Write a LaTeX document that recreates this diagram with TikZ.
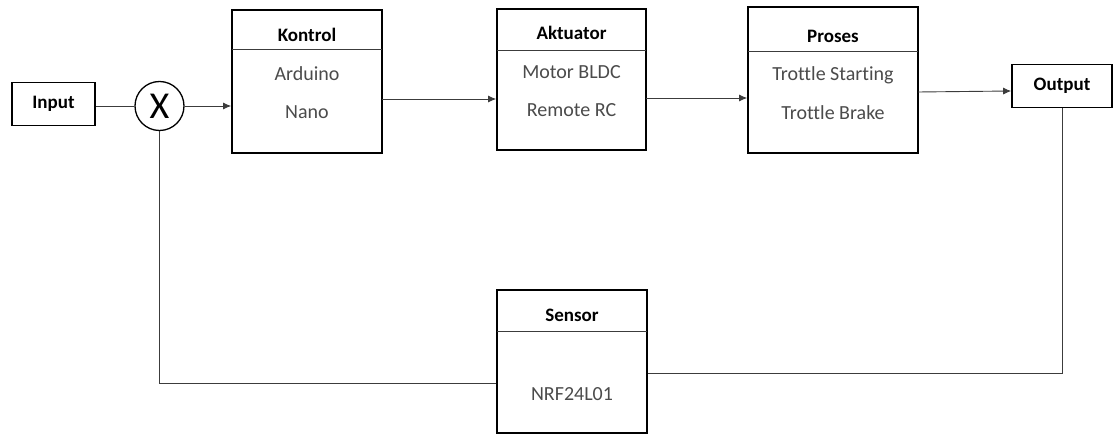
\documentclass[tikz,border=0pt]{standalone}
\usepackage{fontspec}
\setmainfont{Carlito}[Ligatures={NoCommon}]
\usetikzlibrary{arrows.meta}
\definecolor{bodytxt}{RGB}{75,75,75}
\definecolor{linec}{RGB}{60,60,60}
\tikzset{
  blk/.style={draw=black, line width=1.6pt, fill=white, inner sep=0pt},
  hdr/.style={font=\bfseries\fontsize{19}{21}\selectfont, text=black},
  bodyt/.style={font=\fontsize{20}{22}\selectfont, text=bodytxt},
  wire/.style={draw=linec, line width=0.9pt},
  arr/.style={wire, -{Latex[length=8pt,width=7pt]}},
  sep/.style={draw=linec, line width=0.9pt}
}
\begin{document}
\begin{tikzpicture}[x=1pt,y=-1pt]
\useasboundingbox (0,0) rectangle (1114,435);
% Input
\node[blk, minimum width=83pt, minimum height=43pt] (in) at (53.5,104) {};
\node[hdr] at (in.center) {Input};
% summing junction
\node[draw=black, line width=1.3pt, circle, minimum size=49pt, inner sep=0pt] (sum) at (159.5,106) {};
\node[font=\fontsize{38}{40}\selectfont, inner sep=0pt] at (sum.center) {X};
% Kontrol
\node[blk, minimum width=150pt, minimum height=143pt] (kon) at (307,81.5) {};
\draw[sep] (232,49) -- (382,49);
\node[hdr] at (307,35) {Kontrol};
\node[bodyt] at (307,74) {Arduino};
\node[bodyt] at (307,112) {Nano};
% Aktuator
\node[blk, minimum width=149pt, minimum height=141pt] (akt) at (571.5,79.5) {};
\draw[sep] (497,50) -- (646,50);
\node[hdr] at (571.5,33) {Aktuator};
\node[bodyt] at (571.5,72) {Motor BLDC};
\node[bodyt] at (571.5,110) {Remote RC};
% Proses
\node[blk, minimum width=170pt, minimum height=146pt] (pro) at (833,80) {};
\draw[sep] (748,51) -- (918,51);
\node[hdr] at (833,36) {Proses};
\node[bodyt] at (833,75) {Trottle Starting};
\node[bodyt] at (833,113) {Trottle Brake};
% Output
\node[blk, minimum width=100pt, minimum height=43pt] (out) at (1062,86) {};
\node[hdr] at (out.center) {Output};
% Sensor
\node[blk, minimum width=150pt, minimum height=143pt] (sen) at (572,361.5) {};
\draw[sep] (497,331) -- (647,331);
\node[hdr] at (572,315) {Sensor};
\node[bodyt] at (572,394) {NRF24L01};
% connectors
\coordinate (c1) at (1062,373);
\coordinate (c2) at (159.5,383);
\draw[wire] (in.east |- sum.west) -- (sum.west);
\draw[arr] (sum.east) -- (kon.west |- sum.east);
\draw[arr] (382,99) -- (akt.west |- 0,99);
\draw[arr] (646,98) -- (pro.west |- 0,98);
\draw[arr] (918,92) -- (out.west |- 0,91);
\draw[wire] (out.south) -- (c1) -- (sen.east |- c1);
\draw[wire] (sen.west |- c2) -- (c2) -- (sum.south);
\end{tikzpicture}
\end{document}
